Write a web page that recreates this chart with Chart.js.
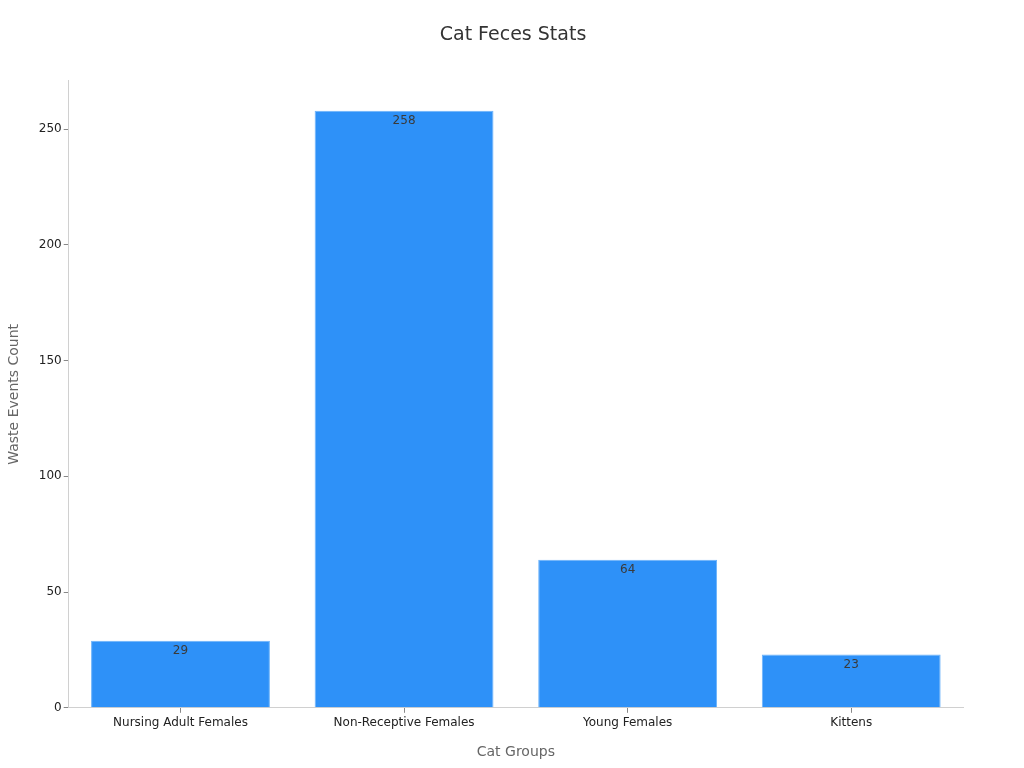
<!DOCTYPE html>
<html>
<head>
<meta charset="utf-8">
<script src="https://cdn.jsdelivr.net/npm/chart.js@4/dist/chart.umd.min.js"></script>
<style>
  html, body { margin: 0; padding: 0; background: #fff; }
  #wrap { width: 1024px; height: 768px; }
</style>
</head>
<body>
<div id="wrap"><canvas id="chart"></canvas></div>
<script>
  // Chart data
  const categories = ['Nursing Adult Females', 'Non-Receptive Females', 'Young Females', 'Kittens'];
  const wasteCounts = [29, 258, 64, 23];
  const yTicks = [0, 50, 100, 150, 200, 250];

  const barColor = '#2e91f8';
  const barBorder = '#6cb3fb';
  const fontFamily = '"DejaVu Sans", sans-serif';

  // Value labels drawn just inside the top of each bar
  const barValuePlugin = {
    id: 'barValuePlugin',
    afterDatasetsDraw(chart){
      const { ctx } = chart;
      const meta = chart.getDatasetMeta(0);
      const data = chart.data.datasets[0].data;
      ctx.save();
      ctx.font = '12px ' + fontFamily;
      ctx.fillStyle = '#3a3a3a';
      ctx.textAlign = 'center';
      ctx.textBaseline = 'middle';
      meta.data.forEach((bar, i) => {
        ctx.fillText(String(data[i]), bar.x, bar.y + 10);
      });
      ctx.restore();
    }
  };

  const axisGrid = { display: true, offset: false, drawOnChartArea: false, drawTicks: true, tickLength: 5, tickColor: '#888' };

  new Chart(document.getElementById('chart'), {
    type: 'bar',
    data: {
      labels: categories,
      datasets: [{
        data: wasteCounts,
        backgroundColor: barColor,
        borderColor: barBorder,
        borderWidth: 1,
        barPercentage: 0.8,
        categoryPercentage: 1.0
      }]
    },
    options: {
      responsive: true,
      maintainAspectRatio: false,
      animation: false,
      layout: { padding: { left: 2, right: 0, top: 10, bottom: 3 } },
      plugins: {
        legend: { display: false },
        tooltip: { enabled: false },
        title: {
          display: true,
          text: 'Cat Feces Stats',
          color: '#333',
          font: { family: fontFamily, size: 19, weight: 'normal' },
          padding: { top: 14, bottom: 34 }
        }
      },
      scales: {
        x: {
          grid: axisGrid,
          border: { display: true, color: '#d0d0d0' },
          ticks: { color: '#222', font: { family: fontFamily, size: 12 }, padding: 3 },
          title: {
            display: true,
            text: 'Cat Groups',
            color: '#666',
            font: { family: fontFamily, size: 14 },
            padding: { top: 11, bottom: 4 }
          }
        },
        y: {
          min: 0,
          max: 258 * 1.05,
          afterBuildTicks(axis){ axis.ticks = yTicks.map(v => ({ value: v })); },
          grid: axisGrid,
          border: { display: true, color: '#d0d0d0' },
          ticks: { color: '#222', font: { family: fontFamily, size: 12 }, padding: 2 },
          title: {
            display: true,
            text: 'Waste Events Count',
            color: '#666',
            font: { family: fontFamily, size: 14 },
            padding: { top: 4, bottom: 14 }
          }
        },
        // empty right-hand axis, only reserves the margin after the plot
        yRight: {
          position: 'right',
          display: true,
          grid: { display: false },
          border: { display: false },
          ticks: { display: false },
          afterFit(scale){ scale.width = 61; }
        }
      }
    },
    plugins: [barValuePlugin]
  });
</script>
</body>
</html>
